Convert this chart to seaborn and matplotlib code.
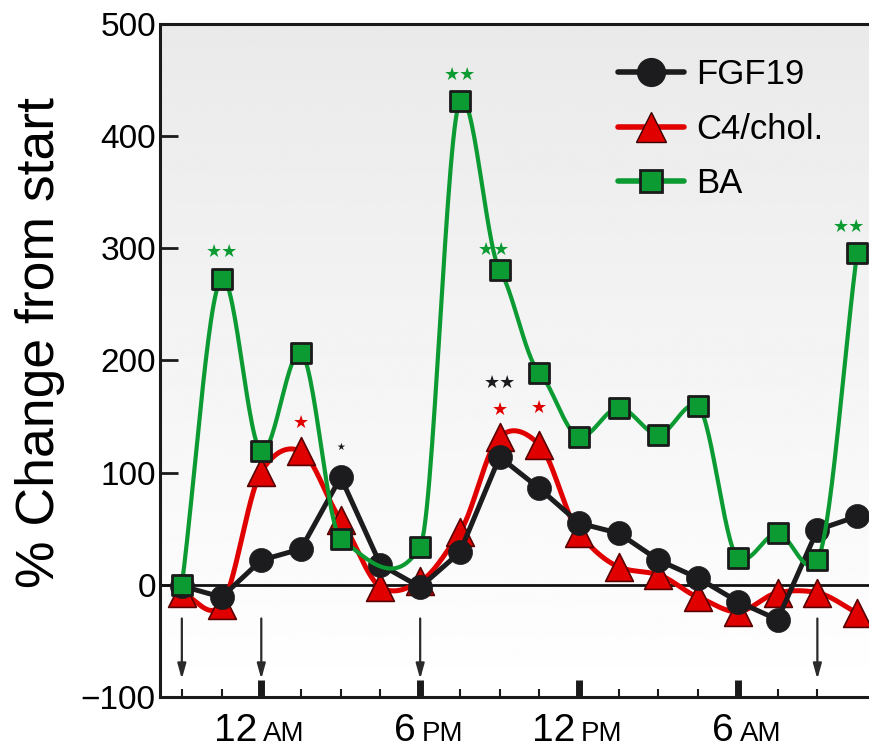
import numpy as np
import pandas as pd
import matplotlib
matplotlib.use("Agg")
import matplotlib.pyplot as plt
import seaborn as sns
from matplotlib.lines import Line2D

# ---------------- data ----------------
time_idx = list(range(18))
fgf19 = [-1, -11, 22, 32, 96, 18, -2, 29, 114, 86, 55, 46, 22, 6, -15, -31, 49, 61]
c4chol = [-7, -18, 101, 119, 58, -2, 3, 47, 132, 125, 46, 16, 9, -11, -24, -7, -7, -25]
ba = [0, 273, 119, 207, 41, np.nan, 34, 431, 281, 189, 132, 158, 134, 159, 24, 46, 22, 296]

series_names = ["FGF19", "C4/chol.", "BA"]
major_ticks = [2, 6, 10, 14]
major_num = ["12", "6", "12", "6"]
major_suffix = ["AM", "PM", "PM", "AM"]
arrow_idx = [0, 2, 6, 16]

# significance marks
sig_x = [1, 7, 7.85, 16.8, 3, 4, 8, 8, 9]
sig_y = [297, 455, 299, 319, 144, 123, 180, 156, 158]
sig_txt = ["★★", "★★", "★★", "★★", "★", "★", "★★", "★", "★"]
sig_series = ["BA", "BA", "BA", "BA", "C4/chol.", "FGF19", "FGF19", "C4/chol.", "C4/chol."]

colors = {"FGF19": "#1c1c1e", "C4/chol.": "#e00000", "BA": "#0b9b32"}

df = pd.DataFrame({"t": time_idx, "FGF19": fgf19, "C4/chol.": c4chol, "BA": ba})


def smooth(x, y, n=30, tension=0.2):
    x = np.asarray(x, float)
    y = np.asarray(y, float)
    ok = ~np.isnan(y)
    x, y = x[ok], y[ok]
    m = np.zeros_like(y)
    m[1:-1] = (y[2:] - y[:-2]) / (x[2:] - x[:-2]) * (1 - tension)
    m[0] = (y[1] - y[0]) / (x[1] - x[0])
    m[-1] = (y[-1] - y[-2]) / (x[-1] - x[-2])
    xs, ys = [], []
    for i in range(len(x) - 1):
        h = x[i + 1] - x[i]
        t = np.linspace(0, 1, n, endpoint=False)
        h00 = 2 * t**3 - 3 * t**2 + 1
        h10 = t**3 - 2 * t**2 + t
        h01 = -2 * t**3 + 3 * t**2
        h11 = t**3 - t**2
        xs.append(x[i] + t * h)
        ys.append(h00 * y[i] + h10 * h * m[i] + h01 * y[i + 1] + h11 * h * m[i + 1])
    xs.append([x[-1]])
    ys.append([y[-1]])
    return pd.DataFrame({"t": np.concatenate(xs), "v": np.concatenate(ys)})


# ---------------- figure ----------------
sns.set_style("ticks")
plt.rcParams["font.family"] = ["Liberation Sans", "DejaVu Sans"]
plt.rcParams["text.color"] = "black"
plt.rcParams["axes.labelcolor"] = "black"
plt.rcParams["xtick.color"] = "#1a1a1a"
plt.rcParams["ytick.color"] = "#1a1a1a"
plt.rcParams["xtick.labelcolor"] = "black"
plt.rcParams["ytick.labelcolor"] = "black"

fig = plt.figure(figsize=(8.69, 7.48), dpi=100)
ax = fig.add_axes([160 / 869, 1 - 697 / 748, 709 / 869, 673 / 748])

xmin, xmax, ymin, ymax = -0.55, 17.3, -100, 500

# gradient background (darker at top, white at bottom)
grad = np.linspace(0.915, 1.0, 256).reshape(-1, 1)
ax.imshow(grad, extent=[xmin, xmax, ymin, ymax], aspect="auto", cmap="gray",
          vmin=0, vmax=1, zorder=0, origin="upper")
ax.set_xlim(xmin, xmax)
ax.set_ylim(ymin, ymax)

ax.axhline(0, color="#111111", lw=2.0, zorder=1)

# lines
sm_red = smooth(df["t"], df["C4/chol."], tension=0.2)
sm_green = smooth(df["t"], df["BA"], tension=0.55)
sns.lineplot(data=sm_red, x="t", y="v", color=colors["C4/chol."], lw=3.6, ax=ax,
             zorder=2, estimator=None, sort=False)
sns.lineplot(data=df, x="t", y="FGF19", color=colors["FGF19"], lw=3.6, ax=ax,
             zorder=3, estimator=None)
sns.lineplot(data=sm_green, x="t", y="v", color=colors["BA"], lw=3.0, ax=ax,
             zorder=4, estimator=None, sort=False)

# markers
sns.scatterplot(data=df, x="t", y="C4/chol.", marker="^", s=400, color=colors["C4/chol."],
                edgecolor="#5a0000", linewidth=1.2, ax=ax, zorder=2.5)
sns.scatterplot(data=df, x="t", y="FGF19", marker="o", s=300, color=colors["FGF19"],
                edgecolor=colors["FGF19"], linewidth=0.5, ax=ax, zorder=3.5)
sns.scatterplot(data=df.dropna(), x="t", y="BA", marker="s", s=210, color=colors["BA"],
                edgecolor="#1a1a1a", linewidth=2.0, ax=ax, zorder=4.5)

# significance stars
for x, y, txt, s in zip(sig_x, sig_y, sig_txt, sig_series):
    fs = 7 if (s == "FGF19" and txt == "★") else 13
    ax.text(x, y, txt, color=colors[s], ha="center", va="center", fontsize=fs,
            family="DejaVu Sans", zorder=6)

# arrows
for i in arrow_idx:
    ax.annotate("", xy=(i, -84), xytext=(i, -30),
                arrowprops=dict(arrowstyle="-|>,head_length=0.9,head_width=0.25",
                                color="#2a2a2a", lw=1.6, shrinkA=0, shrinkB=0),
                zorder=5)

# axes styling
ax.set_yticks(range(-100, 501, 100))
ax.tick_params(axis="y", direction="in", length=13, width=2, labelsize=24, pad=3)
ax.set_xticks(major_ticks)
ax.set_xticklabels([""] * len(major_ticks))
ax.set_xticks([i for i in range(17) if i not in major_ticks], minor=True)
ax.tick_params(axis="x", which="major", direction="in", length=12, width=5, pad=2)
ax.tick_params(axis="x", which="minor", direction="in", length=6, width=1.5)
for sp in ["left", "bottom", "top"]:
    ax.spines[sp].set_linewidth(2.2)
    ax.spines[sp].set_color("#1a1a1a")
ax.spines["right"].set_visible(False)

for t, num, suf in zip(major_ticks, major_num, major_suffix):
    ax.annotate(num, xy=(t, 0), xycoords=("data", "axes fraction"), xytext=(-3, -31.5),
                textcoords="offset points", ha="right", va="baseline", fontsize=28)
    ax.annotate(suf, xy=(t, 0), xycoords=("data", "axes fraction"), xytext=(1.5, -31.5),
                textcoords="offset points", ha="left", va="baseline", fontsize=20)

ax.set_xlabel("")
ax.set_ylabel("% Change from start", fontsize=38.5)
ax.yaxis.set_label_coords(-0.134, 0.527)

# legend
handles = [
    Line2D([], [], color=colors["FGF19"], lw=4, marker="o", markersize=20,
           markerfacecolor=colors["FGF19"], markeredgecolor=colors["FGF19"]),
    Line2D([], [], color=colors["C4/chol."], lw=4, marker="^", markersize=22,
           markerfacecolor=colors["C4/chol."], markeredgecolor="#3a0000"),
    Line2D([], [], color=colors["BA"], lw=4, marker="s", markersize=16,
           markerfacecolor=colors["BA"], markeredgecolor="#1a1a1a", markeredgewidth=2),
]
ax.legend(handles, series_names, loc="upper left", bbox_to_anchor=(0.621, 0.975),
          frameon=False, fontsize=25, handlelength=1.9, handletextpad=0.35,
          labelspacing=0.62, borderpad=0)

fig.savefig("out.png", dpi=100)
